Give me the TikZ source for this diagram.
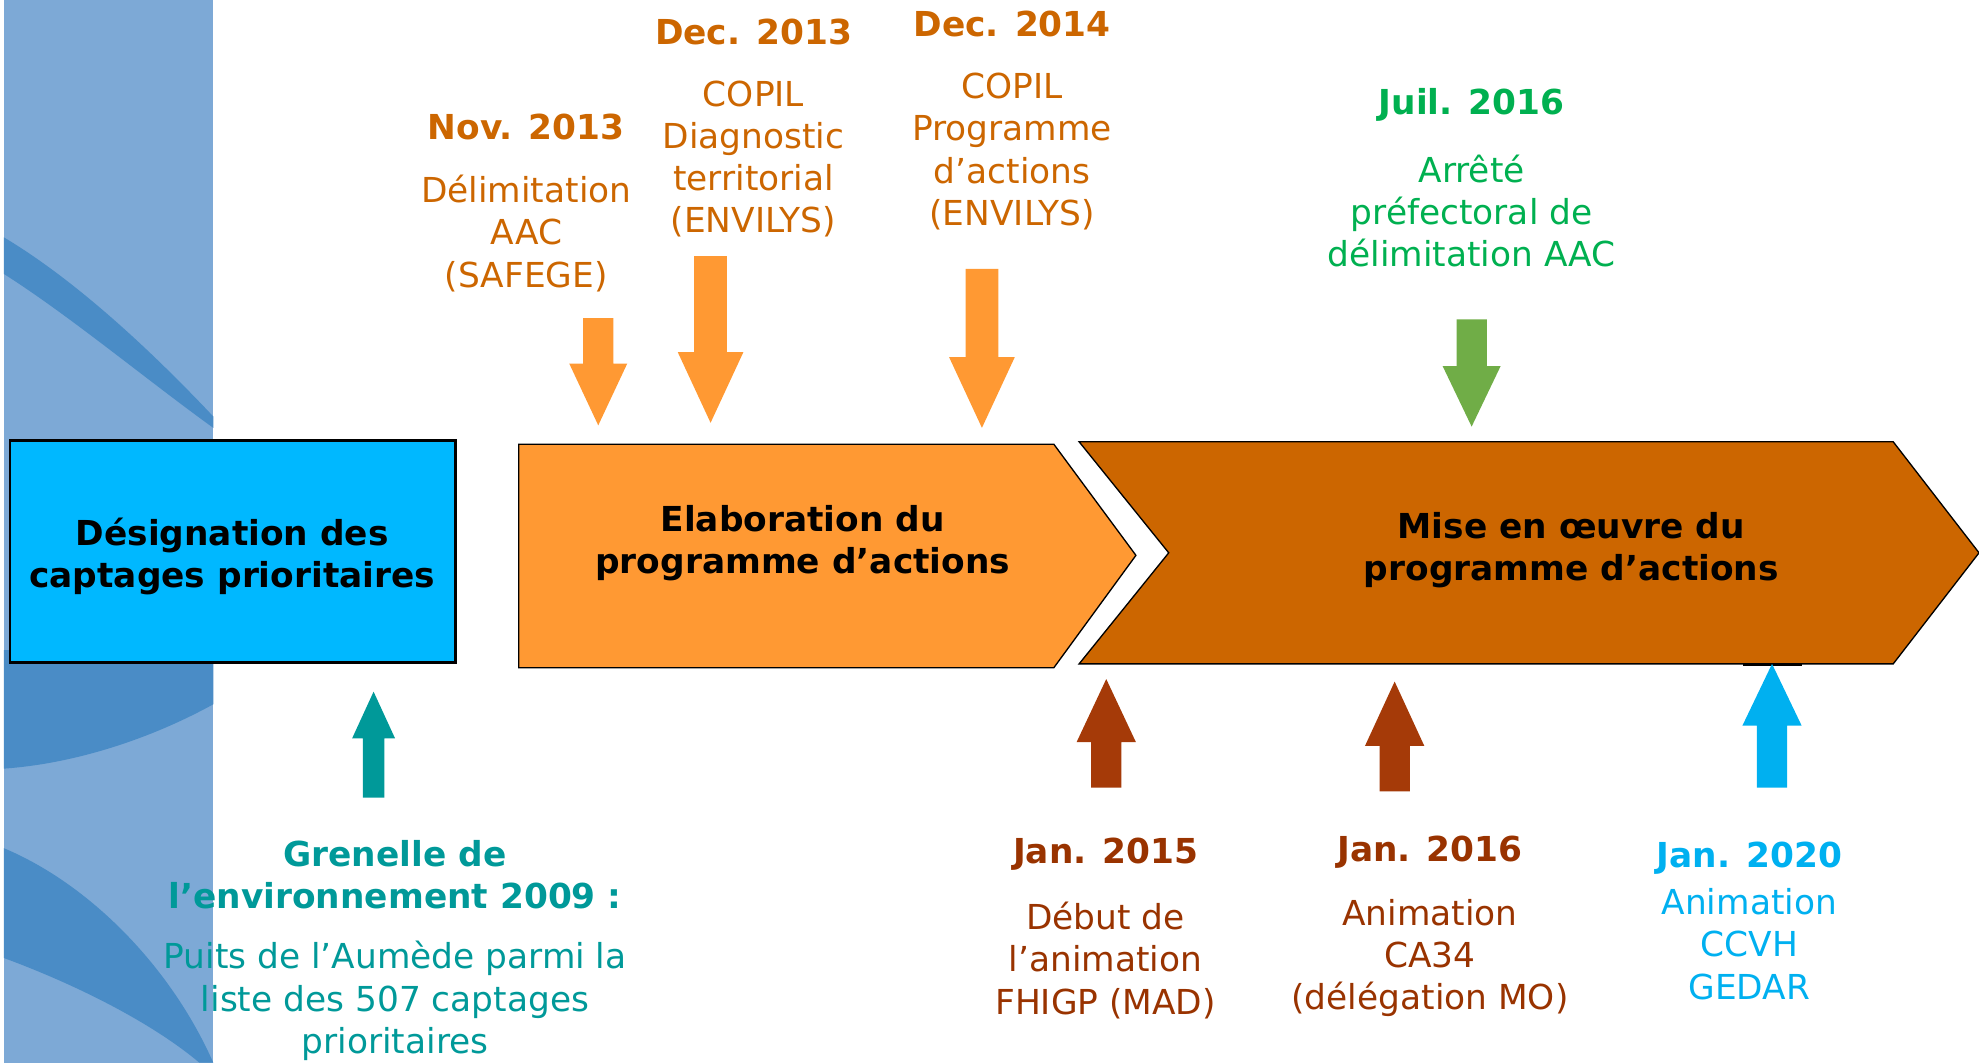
\documentclass[tikz,border=0pt]{standalone}
\usepackage{fontspec}
\setmainfont{DejaVu Sans}
\definecolor{bandlight}{HTML}{7DA9D6}
\definecolor{banddark}{HTML}{4A8CC6}
\definecolor{designblue}{HTML}{00B8FF}
\definecolor{elaborange}{HTML}{FF9933}
\definecolor{miseorange}{HTML}{CC6600}
\definecolor{txtorange}{HTML}{CC6600}
\definecolor{txtgreen}{HTML}{00B050}
\definecolor{arrgreen}{HTML}{70AD47}
\definecolor{grenelle}{HTML}{009999}
\definecolor{brownish}{HTML}{993300}
\definecolor{arrbrown}{HTML}{A53A08}
\definecolor{bluegedar}{HTML}{00B0F0}
% block arrow: colour, x centre, shaft half width, head half width, tail y, head base y, tip y
\newcommand{\blockarrow}[7]{\fill[#1] ({#2-#3},#5) -- ({#2+#3},#5) -- ({#2+#3},#6) -- ({#2+#4},#6) -- (#2,#7) -- ({#2-#4},#6) -- ({#2-#3},#6) -- cycle;}
\tikzset{
  datetxt/.style={font=\bfseries\fontsize{15.5}{19}\selectfont, align=center, inner sep=0pt},
  desctxt/.style={font=\fontsize{15.5}{19}\selectfont, align=center, inner sep=0pt},
  phasetxt/.style={font=\bfseries\fontsize{15.5}{19}\selectfont, align=center, inner sep=0pt}
}
\begin{document}
\begin{tikzpicture}[x=0.2mm,y=-0.2mm]
\useasboundingbox (0,0) rectangle (1568,842);
% background band
\fill[bandlight] (3,0) rectangle (169,842);
\fill[banddark] (3,188) .. controls (60,222) and (120,278) .. (169,330) -- (169,339) .. controls (115,300) and (55,250) .. (3,217) -- cycle;
\fill[banddark] (3,515) -- (169,515) -- (169,558) .. controls (120,585) and (60,605) .. (3,609) -- cycle;
\fill[banddark] (3,672) .. controls (70,700) and (135,765) .. (169,842) -- (158,842) .. controls (120,810) and (60,780) .. (3,759) -- cycle;
% phases
\node[draw, line width=1.1pt, fill=designblue, minimum width=70.6mm, minimum height=35.2mm] (design) at (184.5,437) {};
\node[phasetxt] (designtxt) at (184,441) {Désignation des\\captages prioritaires};
\draw[fill=elaborange, line width=0.6pt] (411,352) -- (835,352) -- (900,440) -- (835,529) -- (411,529) -- cycle;
\node[phasetxt] (elab) at (636,430) {Elaboration du\\programme d’actions};
\draw[fill=miseorange, line width=0.6pt] (855,350) -- (1500,350) -- (1568,438) -- (1500,526) -- (855,526) -- (926,438) -- cycle;
\node[phasetxt] (mise) at (1245,436) {Mise en œuvre du\\programme d’actions};
\draw[line width=1.2pt] (1381,526.5) -- (1428,526.5);
% arrows
\blockarrow{elaborange}{474}{12}{23}{252}{288}{337}
\blockarrow{elaborange}{563}{13}{26}{203}{279}{335}
\blockarrow{elaborange}{778}{13}{26}{213}{283}{339}
\blockarrow{arrgreen}{1166}{12}{23}{253}{290}{338}
\blockarrow{grenelle}{296}{8.5}{17}{632}{585}{548}
\blockarrow{arrbrown}{876.5}{12}{23.5}{624}{588}{538}
\blockarrow{arrbrown}{1105}{12}{23.5}{627}{591}{540}
\blockarrow{bluegedar}{1404}{12}{23.5}{624}{575}{526}
% top labels
\node[datetxt, text=txtorange] (nov13) at (417,101) {Nov. 2013};
\node[desctxt, text=txtorange] (nov13txt) at (417,185) {Délimitation\\AAC\\(SAFEGE)};
\node[datetxt, text=txtorange] (dec13) at (597,25) {Dec. 2013};
\node[desctxt, text=txtorange] (dec13txt) at (597,126) {COPIL\\Diagnostic\\territorial\\(ENVILYS)};
\node[datetxt, text=txtorange] (dec14) at (802,19) {Dec. 2014};
\node[desctxt, text=txtorange] (dec14txt) at (802,120) {COPIL\\Programme\\d’actions\\(ENVILYS)};
\node[datetxt, text=txtgreen] (juil16) at (1166,83) {Juil. 2016};
\node[desctxt, text=txtgreen] (juil16txt) at (1166,167) {Arrêté\\préfectoral de\\délimitation AAC};
% bottom labels
\node[datetxt, text=grenelle] (gren) at (313,693) {Grenelle de\\l’environnement 2009 :};
\node[desctxt, text=grenelle] (grentxt) at (313,793) {Puits de l’Aumède parmi la\\liste des 507 captages\\prioritaires};
\node[datetxt, text=brownish] (jan15) at (876,677) {Jan. 2015};
\node[desctxt, text=brownish] (jan15txt) at (876,761) {Début de\\l’animation\\FHIGP (MAD)};
\node[datetxt, text=brownish] (jan16) at (1133,675) {Jan. 2016};
\node[desctxt, text=brownish] (jan16txt) at (1133,759) {Animation\\CA34\\(délégation MO)};
\node[datetxt, text=bluegedar] (jan20) at (1386,680) {Jan. 2020};
\node[desctxt, text=bluegedar] (jan20txt) at (1386,748) {Animation\\CCVH\\GEDAR};
\end{tikzpicture}
\end{document}
